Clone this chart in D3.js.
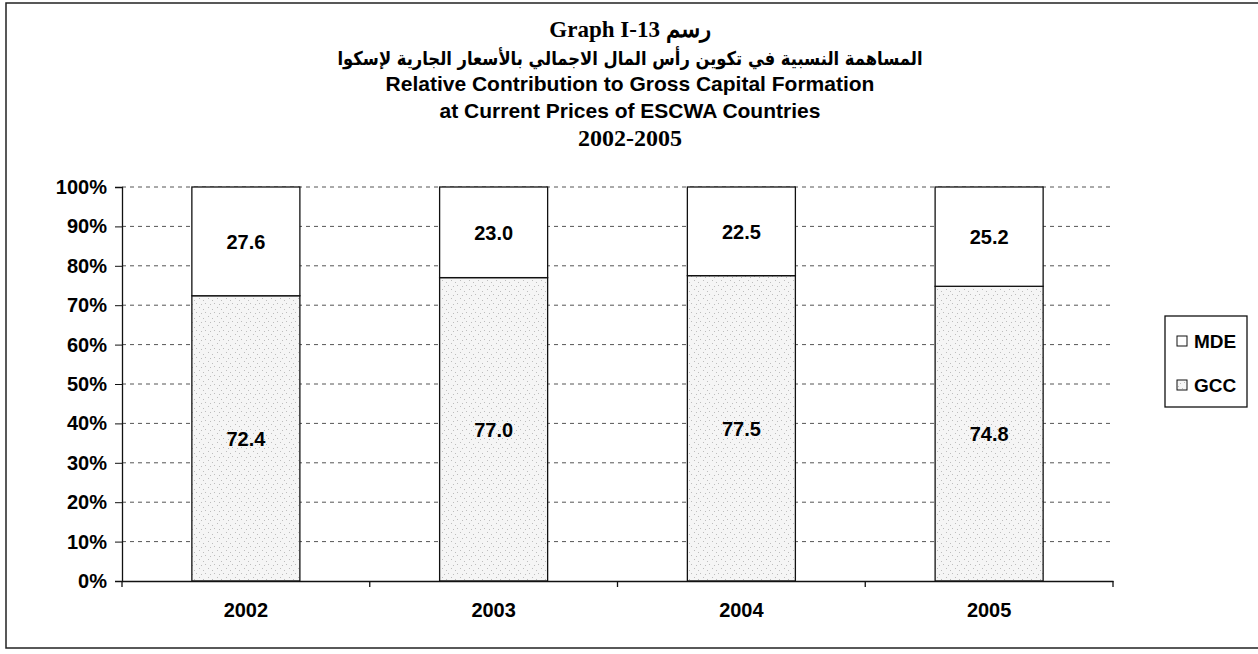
<!DOCTYPE html>
<html>
<head>
<meta charset="utf-8">
<script src="https://cdn.jsdelivr.net/npm/d3@7"></script>
<style>
  body { margin: 0; background: #fff; }
  text { font-family: "Liberation Sans", Arial, sans-serif; font-weight: bold; fill: #000; }
</style>
</head>
<body>
<div id="chart"></div>
<script>
var svgWidth = 1258;
var svgHeight = 654;

// data
var years = ["2002", "2003", "2004", "2005"];
var gccValues = [72.4, 77.0, 77.5, 74.8];
var mdeValues = [27.6, 23.0, 22.5, 25.2];
var yTicks = [0, 10, 20, 30, 40, 50, 60, 70, 80, 90, 100];
var seriesNames = ["MDE", "GCC"];

var plot = { left: 122, right: 1113, top: 187, bottom: 581 };

var svg = d3.select("#chart")
    .append("svg")
    .attr("width", svgWidth)
    .attr("height", svgHeight);

// stipple fill for GCC
var defs = svg.append("defs");
var pat = defs.append("pattern")
    .attr("id", "stipple")
    .attr("patternUnits", "userSpaceOnUse")
    .attr("width", 9)
    .attr("height", 9);
pat.append("rect").attr("width", 9).attr("height", 9).attr("fill", "#f5f5f5");
[[1, 1], [5, 3], [3, 7], [7, 6]].forEach(function(p) {
    pat.append("rect").attr("x", p[0]).attr("y", p[1])
        .attr("width", 1).attr("height", 1).attr("fill", "#bdbdbd");
});

// outer frame
svg.append("rect")
    .attr("x", 6).attr("y", 3)
    .attr("width", 1300).attr("height", 645)
    .attr("fill", "none")
    .attr("stroke", "#222")
    .attr("stroke-width", 1.5);

// titles, centred on the chart area
var cx = 630;
svg.append("text")
    .attr("x", cx).attr("y", 37)
    .attr("text-anchor", "middle")
    .style("font-family", "'Liberation Serif', 'Times New Roman', serif")
    .style("font-size", "23px")
    .text("Graph I-13 رسم");

svg.append("text")
    .attr("x", cx).attr("y", 65)
    .attr("text-anchor", "middle")
    .attr("direction", "rtl")
    .attr("textLength", 585)
    .attr("lengthAdjust", "spacingAndGlyphs")
    .style("font-family", "'DejaVu Sans', sans-serif")
    .style("font-size", "19px")
    .text("المساهمة النسبية في تكوين رأس المال الاجمالي بالأسعار الجارية لإسكوا");

svg.append("text")
    .attr("x", cx).attr("y", 91)
    .attr("text-anchor", "middle")
    .style("font-size", "21px")
    .text("Relative Contribution to Gross Capital Formation");

svg.append("text")
    .attr("x", cx).attr("y", 118)
    .attr("text-anchor", "middle")
    .style("font-size", "21px")
    .text("at Current Prices of ESCWA Countries");

svg.append("text")
    .attr("x", cx).attr("y", 146)
    .attr("text-anchor", "middle")
    .style("font-family", "'Liberation Serif', 'Times New Roman', serif")
    .style("font-size", "24px")
    .text("2002-2005");

// scales
var xScale = d3.scaleBand()
    .domain(years)
    .range([plot.left, plot.right])
    .paddingInner(0.564)
    .paddingOuter(0.282);

var yScale = d3.scaleLinear()
    .domain([0, 100])
    .range([plot.bottom, plot.top]);

// gridlines
svg.append("g")
    .selectAll("line")
    .data(yTicks.filter(d => d > 0))
    .enter()
    .append("line")
    .attr("x1", plot.left)
    .attr("x2", plot.right)
    .attr("y1", d => yScale(d))
    .attr("y2", d => yScale(d))
    .attr("stroke", "#555")
    .attr("stroke-width", 1)
    .attr("stroke-dasharray", "4,4");

// bars
var stacked = years.map(function(y, i) {
    return { year: y, gcc: gccValues[i], mde: mdeValues[i] };
});

var barGroup = svg.append("g");
barGroup.selectAll("rect.gcc")
    .data(stacked)
    .enter()
    .append("rect")
    .attr("class", "gcc")
    .attr("x", d => xScale(d.year))
    .attr("width", xScale.bandwidth())
    .attr("y", d => yScale(d.gcc))
    .attr("height", d => yScale(0) - yScale(d.gcc))
    .attr("fill", "url(#stipple)")
    .attr("stroke", "#111")
    .attr("stroke-width", 1.3);

barGroup.selectAll("rect.mde")
    .data(stacked)
    .enter()
    .append("rect")
    .attr("class", "mde")
    .attr("x", d => xScale(d.year))
    .attr("width", xScale.bandwidth())
    .attr("y", d => yScale(d.gcc + d.mde))
    .attr("height", d => yScale(d.gcc) - yScale(d.gcc + d.mde))
    .attr("fill", "#fff")
    .attr("stroke", "#111")
    .attr("stroke-width", 1.3);

// value labels
var fmt = d3.format(".1f");
barGroup.selectAll("text.gccLabel")
    .data(stacked)
    .enter()
    .append("text")
    .attr("x", d => xScale(d.year) + xScale.bandwidth() / 2)
    .attr("y", d => yScale(d.gcc / 2))
    .attr("dy", "0.36em")
    .attr("text-anchor", "middle")
    .style("font-size", "20px")
    .text(d => fmt(d.gcc));

barGroup.selectAll("text.mdeLabel")
    .data(stacked)
    .enter()
    .append("text")
    .attr("x", d => xScale(d.year) + xScale.bandwidth() / 2)
    .attr("y", d => yScale(d.gcc + d.mde / 2))
    .attr("dy", "0.36em")
    .attr("text-anchor", "middle")
    .style("font-size", "20px")
    .text(d => fmt(d.mde));

// y axis
var leftAxis = d3.axisLeft(yScale)
    .tickValues(yTicks)
    .tickFormat(d => d + "%")
    .tickSize(7)
    .tickPadding(8);

var yAxis = svg.append("g")
    .attr("transform", `translate(${plot.left},0)`)
    .call(leftAxis);
yAxis.select(".domain").attr("stroke", "#111").attr("stroke-width", 1.3);
yAxis.selectAll(".tick line").attr("stroke", "#111");
yAxis.selectAll(".tick text")
    .style("font-family", "'Liberation Sans', Arial, sans-serif")
    .style("font-weight", "bold")
    .style("font-size", "20px")
    .attr("fill", "#000");

// x axis
var bottomAxis = d3.axisBottom(xScale)
    .tickSize(0)
    .tickPadding(22);

var xAxis = svg.append("g")
    .attr("transform", `translate(0,${plot.bottom})`)
    .call(bottomAxis);
xAxis.select(".domain").attr("stroke", "#111").attr("stroke-width", 1.5);
xAxis.selectAll(".tick text")
    .style("font-family", "'Liberation Sans', Arial, sans-serif")
    .style("font-weight", "bold")
    .style("font-size", "20px")
    .attr("fill", "#000");

// category boundary ticks
var boundaries = years.map((y, i) => plot.left + xScale.step() * i).concat([plot.right]);
xAxis.selectAll("line.boundary")
    .data(boundaries)
    .enter()
    .append("line")
    .attr("class", "boundary")
    .attr("x1", d => d).attr("x2", d => d)
    .attr("y1", 0).attr("y2", 6)
    .attr("stroke", "#111")
    .attr("stroke-width", 1.3);

// legend
var legend = svg.append("g").attr("transform", "translate(1165,316)");
legend.append("rect")
    .attr("width", 82).attr("height", 91)
    .attr("fill", "#fff")
    .attr("stroke", "#111")
    .attr("stroke-width", 1.3);

var legendItems = legend.selectAll("g.item")
    .data(seriesNames)
    .enter()
    .append("g")
    .attr("transform", (d, i) => `translate(12,${25 + i * 44})`);

legendItems.append("rect")
    .attr("x", 0).attr("y", -5)
    .attr("width", 10).attr("height", 10)
    .attr("fill", d => d === "GCC" ? "url(#stipple)" : "#fff")
    .attr("stroke", "#111")
    .attr("stroke-width", 1);

legendItems.append("text")
    .attr("x", 17)
    .attr("dy", "0.36em")
    .style("font-size", "19px")
    .text(d => d);
</script>
</body>
</html>
